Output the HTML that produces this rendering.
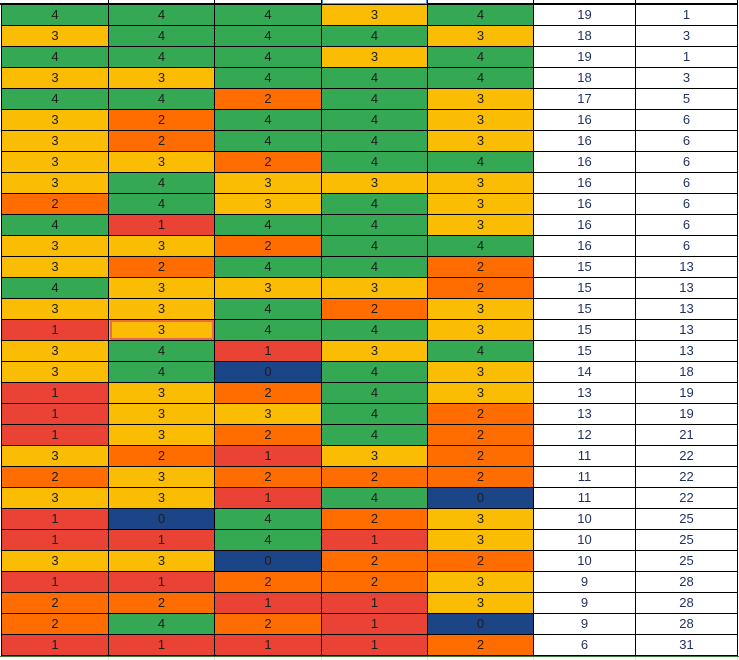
<!DOCTYPE html>
<html><head><meta charset="utf-8">
<style>
html,body{margin:0;padding:0;background:#fff;width:739px;height:660px;overflow:hidden;font-family:"Liberation Sans",sans-serif;}
#sheet{position:relative;width:739px;height:660px;}
.c{position:absolute;box-sizing:border-box;border-right:1px solid #000;border-bottom:1px solid #000;font-size:13px;text-align:center;color:#1d1d1d;}
.w{color:#1f2f5f;background:#fff;}
</style></head>
<body>
<div id="sheet"></div>
<script>
const scores = [
[4,4,4,3,4],[3,4,4,4,3],[4,4,4,3,4],[3,3,4,4,4],[4,4,2,4,3],
[3,2,4,4,3],[3,2,4,4,3],[3,3,2,4,4],[3,4,3,3,3],[2,4,3,4,3],
[4,1,4,4,3],[3,3,2,4,4],[3,2,4,4,2],[4,3,3,3,2],[3,3,4,2,3],
[1,3,4,4,3],[3,4,1,3,4],[3,4,0,4,3],[1,3,2,4,3],[1,3,3,4,2],
[1,3,2,4,2],[3,2,1,3,2],[2,3,2,2,2],[3,3,1,4,0],[1,0,4,2,3],
[1,1,4,1,3],[3,3,0,2,2],[1,1,2,2,3],[2,2,1,1,3],[2,4,2,1,0],[1,1,1,1,2]];
const totals = [19,18,19,18,17,16,16,16,16,16,16,16,15,15,15,15,15,14,13,13,12,11,11,11,10,10,10,9,9,9,6];
const ranks = [1,3,1,3,5,6,6,6,6,6,6,6,13,13,13,13,13,18,19,19,21,22,22,22,25,25,25,28,28,28,31];
const palette = {4:'#34a853',3:'#fbbc04',2:'#ff6d01',1:'#ea4335',0:'#1c4587'};
const colX = [2,109,215,322,428,534,636,738];
const top0 = 5, rowH = 21;
const sheet = document.getElementById('sheet');
// header remnant row
const hdr = document.createElement('div');


hdr.style.cssText='position:absolute;left:0;top:3px;width:738px;height:2px;background:#000;';
sheet.appendChild(hdr);
for(let i=0;i<7;i++){
  const v=document.createElement('div');
  
  
  v.style.cssText='position:absolute;top:0;left:'+(colX[i+1]-1)+'px;width:1px;height:5px;background:#000;';
  sheet.appendChild(v);
}
const sel=document.createElement('div');


sel.style.cssText='position:absolute;top:0;left:322px;width:105px;height:4px;border:1px solid #4a90d9;border-top:none;box-sizing:border-box;';
sheet.appendChild(sel);
const lb=document.createElement('div');


lb.style.cssText='position:absolute;top:4px;left:1px;width:1px;height:652px;background:#000;';
sheet.appendChild(lb);
scores.forEach((row,r)=>{
  const y=top0+r*rowH;
  const vals=row.concat([totals[r],ranks[r]]);
  vals.forEach((v,c)=>{
    const d=document.createElement('div');
    d.className='c'+(c>=5?' w':'');
    
    
    d.style.left=colX[c]+'px';
    d.style.top=y+'px';
    d.style.width=(colX[c+1]-colX[c])+'px';
    d.style.height=rowH+'px';
    d.style.lineHeight=(rowH-1)+'px';
    if(c<5) d.style.background=palette[v];
    d.textContent=v;
    sheet.appendChild(d);
  });
});
// highlighted cell
const hl=document.createElement('div');


hl.style.cssText='position:absolute;left:110px;top:'+(top0+15*rowH)+'px;width:104px;height:20px;border:2px solid #ea6a4f;box-sizing:border-box;';
sheet.appendChild(hl);
const gl=document.createElement('div');


gl.style.cssText='position:absolute;left:0;top:'+(top0+31*rowH)+'px;width:739px;height:1px;background:#3a7a3a;';
sheet.appendChild(gl);
for(let i=1;i<8;i++){
  const g=document.createElement('div');
  
  
  g.style.cssText='position:absolute;top:'+(top0+31*rowH+1)+'px;left:'+(colX[i]-1)+'px;width:1px;height:10px;background:#e0e0e0;';
  sheet.appendChild(g);
}
</script>
</body></html>
